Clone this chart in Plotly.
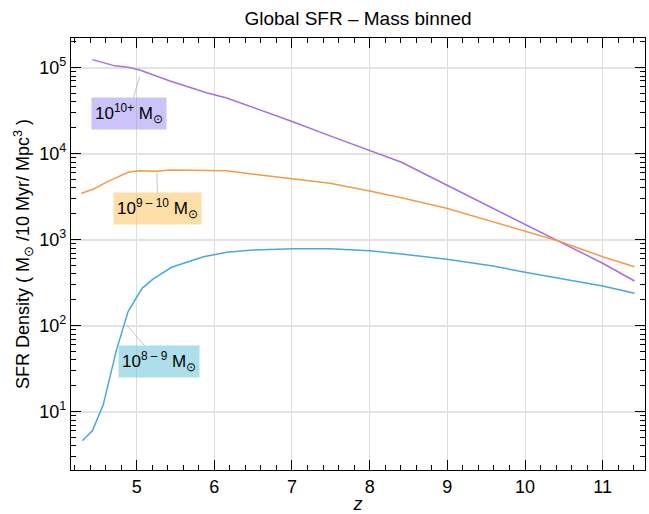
import math
import plotly.graph_objects as go

# ---- data ----
z_hi = [4.43, 4.72, 4.89, 5.04, 5.43, 5.62, 5.90, 6.16, 6.42, 6.76, 7.02, 7.49, 8.00, 8.41, 8.99, 10.00, 10.43, 11.00, 11.41]
sfr_hi = [1.24e5, 1.05e5, 1.01e5, 9.4e4, 7.0e4, 6.2e4, 5.1e4, 4.44e4, 3.68e4, 2.82e4, 2.34e4, 1.61e4, 1.10e4, 7.94e3, 4.32e3, 1.51e3, 948, 532, 331]

z_mid = [4.29, 4.44, 4.62, 4.89, 5.04, 5.26, 5.43, 5.71, 6.16, 6.59, 7.49, 8.00, 8.41, 8.99, 10.00, 10.43, 11.00, 11.41]
sfr_mid = [3.47e3, 3.86e3, 4.7e3, 6.08e3, 6.34e3, 6.24e3, 6.46e3, 6.46e3, 6.34e3, 5.65e3, 4.53e3, 3.68e3, 3.08e3, 2.32e3, 1.26e3, 966, 634, 485]

z_lo = [4.30, 4.43, 4.57, 4.74, 4.89, 5.07, 5.21, 5.45, 5.86, 6.16, 6.50, 7.02, 7.49, 8.00, 8.41, 8.99, 9.59, 10.00, 11.00, 11.41]
sfr_lo = [4.6, 6.0, 12, 52, 146, 272, 347, 478, 634, 713, 759, 785, 785, 745, 682, 592, 494, 418, 290, 238]

labels = ["10<sup>10+</sup> M<sub>⊙</sub>", "10<sup>9 – 10</sup> M<sub>⊙</sub>", "10<sup>8 – 9</sup> M<sub>⊙</sub>"]
label_z = [5.04, 5.26, 4.87]
label_sfr = [7.9e4, 5.97e3, 102]
y_tick_vals = [10, 100, 1000, 1e4, 1e5]
y_tick_text = ["10<sup>1</sup>", "10<sup>2</sup>", "10<sup>3</sup>", "10<sup>4</sup>", "10<sup>5</sup>"]
x_tick_vals = [5, 6, 7, 8, 9, 10, 11]

col_hi, col_mid, col_lo = "#a66fe0", "#f59a48", "#48a8e0"

FONT = "Liberation Sans, Arial, sans-serif"

fig = go.Figure()
fig.add_trace(go.Scatter(x=z_hi, y=sfr_hi, mode="lines", line=dict(color=col_hi, width=1.5), showlegend=False, hoverinfo="skip"))
fig.add_trace(go.Scatter(x=z_mid, y=sfr_mid, mode="lines", line=dict(color=col_mid, width=1.5), showlegend=False, hoverinfo="skip"))
fig.add_trace(go.Scatter(x=z_lo, y=sfr_lo, mode="lines", line=dict(color=col_lo, width=1.5), showlegend=False, hoverinfo="skip"))

minor_y = [m * 10 ** e for e in range(0, 6) for m in range(2, 10)]

ann_common = dict(showarrow=True, arrowhead=0, arrowwidth=0.8, arrowcolor="#b8b8b8",
                  font=dict(family=FONT, size=17, color="black"), borderpad=3, standoff=0)
offsets = [(-11, 37), (1, 36), (32, 37)]
bgs = ["rgba(150,138,245,0.5)", "rgba(252,196,95,0.55)", "rgba(113,200,218,0.58)"]
for txt, zx, sv, (ox, oy), bg in zip(labels, label_z, label_sfr, offsets, bgs):
    fig.add_annotation(x=zx, y=math.log10(sv), ax=ox, ay=oy, text=txt, bgcolor=bg, **ann_common)

fig.update_layout(
    width=649, height=514,
    margin=dict(l=71, r=4, t=38, b=44),
    paper_bgcolor="white", plot_bgcolor="white",
    font=dict(family=FONT, size=18, color="black"),
    title=dict(text="Global SFR – Mass binned", x=(71 + 645) / 2 / 649, xanchor="center",
               y=1 - 18 / 514, yanchor="middle", font=dict(size=19, family=FONT, color="black")),
    xaxis=dict(range=[4.155, 11.545], tickvals=x_tick_vals, ticks="inside", ticklen=10, tickwidth=1,
               tickcolor="black", showline=True, linecolor="black", linewidth=1.3, mirror="allticks",
               showgrid=True, gridcolor="#dddddd", gridwidth=1, zeroline=False, automargin=False,
               minor=dict(dtick=0.2, ticks="inside", ticklen=5, tickcolor="black", showgrid=False),
               title=dict(text="<i>z</i>", standoff=17, font=dict(size=18)),
               tickfont=dict(size=18)),
    yaxis=dict(type="log", range=[0.322, 5.345], tickvals=y_tick_vals, ticktext=y_tick_text,
               ticks="inside", ticklen=10, tickwidth=1, tickcolor="black", automargin=False,
               showline=True, linecolor="black", linewidth=1.3, mirror="allticks",
               showgrid=True, gridcolor="#e3e3e3", gridwidth=2, zeroline=False,
               minor=dict(tickvals=minor_y, ticks="inside", ticklen=5, tickcolor="black", showgrid=False),
               title=dict(text="SFR Density ( M<sub>⊙</sub> /10 Myr/ Mpc<sup>3</sup> )", standoff=4, font=dict(size=18)),
               tickfont=dict(size=18)),
)

fig.write_html("out.html", config={"displayModeBar": False},
               post_script="document.body.style.margin='0';document.body.style.overflow='hidden';")
